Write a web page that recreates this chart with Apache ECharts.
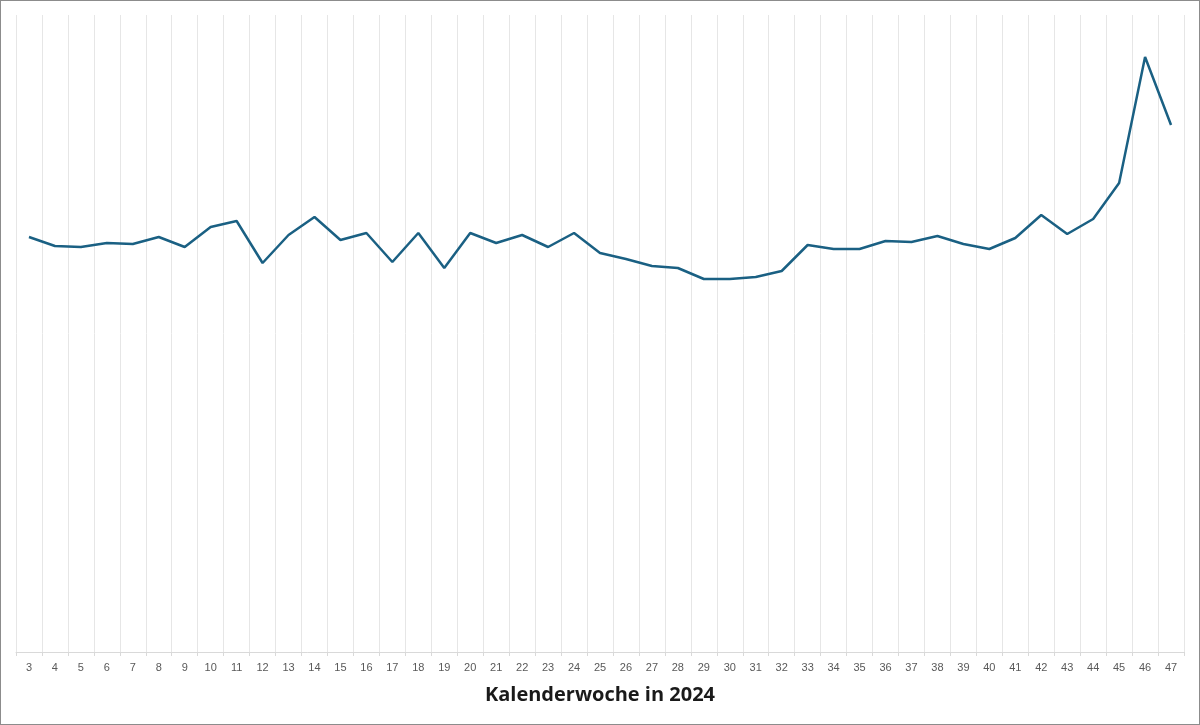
<!DOCTYPE html>
<html>
<head>
<meta charset="utf-8">
<script src="https://cdn.jsdelivr.net/npm/echarts@6/dist/echarts.min.js"></script>
<style>
html,body{margin:0;padding:0;background:#fff;}
#frame{position:absolute;left:0;top:0;width:1198px;height:723px;border:1px solid #8c8c8c;}
#chart{position:absolute;left:0;top:0;width:1200px;height:725px;}
</style>
</head>
<body>
<div id="chart"></div>
<div id="frame"></div>
<script>
const weeks = ['3','4','5','6','7','8','9','10','11','12','13','14','15','16','17','18','19','20','21','22','23','24','25','26','27','28','29','30','31','32','33','34','35','36','37','38','39','40','41','42','43','44','45','46','47'];
const values = [415,406,405,409,408,415,405,425,431,389,417,435,412,419,390,419,384,419,409,417,405,419,399,393,386,384,373,373,375,381,407,403,403,411,410,416,408,403,414,437,418,433,469,595,527];
const xTitle = 'Kalenderwoche in 2024';

const chart = echarts.init(document.getElementById('chart'), null, {renderer:'canvas'});
chart.setOption({
  animation:false,
  backgroundColor:'#ffffff',
  grid:{left:16,right:16,top:15,bottom:73,containLabel:false},
  xAxis:{
    type:'category',
    data:weeks,
    boundaryGap:true,
    name:xTitle,
    nameLocation:'middle',
    nameGap:33,
    nameTextStyle:{fontFamily:'Open Sans',fontWeight:'bold',fontSize:20,color:'#1a1a1a'},
    axisLine:{show:true,lineStyle:{color:'#d9d9d9',width:1}},
    axisTick:{show:true,length:4,lineStyle:{color:'#d9d9d9'},alignWithLabel:false},
    axisLabel:{color:'#595959',fontSize:11,fontFamily:'Liberation Sans',margin:10,interval:0},
    splitLine:{show:true,lineStyle:{color:'#e6e6e6',width:1}}
  },
  yAxis:{
    type:'value',
    min:0,max:637,
    show:false,
    splitLine:{show:false}
  },
  series:[{
    type:'line',
    data:values,
    symbol:'none',
    lineStyle:{color:'#1a6083',width:2.5},
    itemStyle:{color:'#1a6083'}
  }]
});
</script>
</body>
</html>
